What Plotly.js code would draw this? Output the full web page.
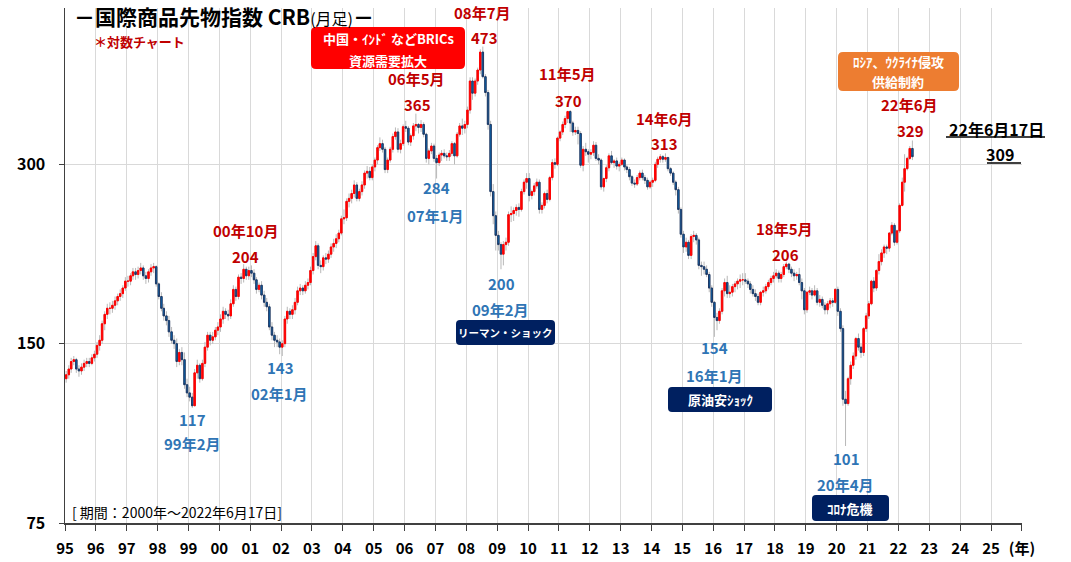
<!DOCTYPE html>
<html><head><meta charset="utf-8">
<script src="https://cdn.plot.ly/plotly-3.0.1.min.js"></script>
<style>html,body{margin:0;padding:0;background:#fff}#c{width:1071px;height:562px}</style>
</head><body><div id="c"></div>
<script>
// Monthly OHLC, Jan 1995 - Jun 2022
const openP = [
131,133,136,140,141,136,135,137,139,140,139,142,
144,149,152,162,168,172,172,174,177,180,182,186,
191,191,195,198,196,199,201,195,193,198,201,202,
189,180,172,167,164,157,152,150,140,145,141,128,
124,122,118,134,138,131,139,148,155,152,154,158,
160,165,170,168,167,175,185,180,194,193,200,195,
199,197,192,185,188,181,176,173,160,155,152,151,
148,150,165,170,168,171,176,184,186,184,188,190,
199,210,219,203,202,209,208,212,218,221,225,230,
243,244,260,263,268,277,263,270,277,290,292,285,
297,305,320,325,318,294,305,318,334,340,318,325,
347,345,327,335,348,350,346,350,337,307,316,322,
307,302,311,313,310,309,313,325,310,337,348,345,
350,370,414,395,414,432,463,421,396,350,270,246,
228,220,212,220,222,247,248,251,254,252,270,280,
284,266,270,276,280,252,256,268,262,285,302,300,
332,340,350,358,368,352,340,342,338,299,318,315,
312,314,323,307,305,275,284,296,310,302,304,298,
300,305,297,294,286,279,278,285,290,285,282,275,
280,282,300,306,309,306,308,295,290,280,272,252,
229,218,222,211,227,228,224,203,202,200,196,186,
176,166,164,170,184,190,182,183,187,189,191,192,
192,191,189,185,182,180,176,183,184,187,190,193,
195,197,193,196,202,204,200,197,195,196,190,184,
171,183,184,181,184,176,178,174,171,175,177,176,
185,170,159,121,119,131,138,143,153,148,145,159,
167,175,191,186,199,206,213,218,217,230,237,222,
232,256,280,295,307,319];
const closeP = [
133,136,140,141,136,135,137,139,140,139,142,144,
149,152,162,168,172,172,174,177,180,182,186,191,
191,195,198,196,199,201,195,193,198,201,202,189,
180,172,167,164,157,152,150,140,145,141,128,124,
122,118,134,138,131,139,148,155,152,154,158,160,
165,170,168,167,175,185,180,194,193,200,195,199,
197,192,185,188,181,176,173,160,155,152,151,148,
150,165,170,168,171,176,184,186,184,188,190,199,
210,219,203,202,209,208,212,218,221,225,230,243,
244,260,263,268,277,263,270,277,290,292,285,297,
305,320,325,318,294,305,318,334,340,318,325,347,
345,327,335,348,350,346,350,337,307,316,322,307,
302,311,313,310,309,313,325,310,337,348,345,350,
370,414,395,414,432,463,421,396,350,270,246,228,
220,212,220,222,247,248,251,254,252,270,280,284,
266,270,276,280,252,256,268,262,285,302,300,332,
340,350,358,368,352,340,342,338,299,318,315,312,
314,323,307,305,275,284,296,310,302,304,298,300,
305,297,294,286,279,278,285,290,285,282,275,280,
282,300,306,309,306,308,295,290,280,272,252,229,
218,222,211,227,228,224,203,202,200,196,186,176,
166,164,170,184,190,182,183,187,189,191,192,192,
191,189,185,182,180,176,183,184,187,190,193,195,
197,193,196,202,204,200,197,195,196,190,184,171,
183,184,181,184,176,178,174,171,175,177,176,185,
170,159,121,119,131,138,143,153,148,145,159,167,
175,191,186,199,206,213,218,217,230,237,222,232,
256,280,295,307,319,309];
const highP = [
135,138,142,143,142,138,139,141,142,142,144,146,
151,155,164,170,175,176,177,180,182,185,188,194,
195,197,201,201,202,205,203,198,200,204,205,203,
190,183,175,170,167,160,155,153,147,148,145,131,
127,124,136,141,139,141,151,157,157,157,160,163,
168,173,172,171,178,188,187,196,197,204,202,202,
203,200,194,190,191,184,179,175,163,157,155,153,
152,167,173,172,174,179,187,189,188,191,193,202,
213,223,221,207,211,213,215,221,225,229,233,246,
252,263,268,272,282,280,273,281,293,298,297,300,
308,323,333,330,321,308,321,338,346,345,330,350,
355,348,338,352,365,352,356,353,339,319,326,325,
311,314,317,318,314,317,328,327,340,352,358,355,
375,420,420,418,436,468,473,425,400,355,278,250,
232,222,223,226,250,255,254,257,258,273,283,290,
290,272,279,284,283,259,270,272,287,306,307,334,
342,354,362,369,370,355,347,347,341,322,326,318,
318,328,327,312,307,285,299,313,316,306,308,303,
308,307,299,297,288,283,288,293,294,288,285,282,
285,303,309,312,311,313,309,297,292,282,275,254,
232,226,224,229,232,230,226,206,206,203,198,188,
177,169,172,186,193,195,188,189,191,193,196,197,
197,193,191,188,185,182,184,187,189,192,195,198,
200,199,198,204,206,205,202,200,198,201,193,186,
184,187,186,188,186,181,180,176,177,179,179,186,
187,172,161,125,132,140,145,154,156,150,160,169,
177,192,194,200,212,216,220,220,231,240,239,233,
258,285,312,309,322,329];
const lowP = [
129,131,134,138,134,132,133,135,137,137,138,140,
142,146,150,158,165,168,169,171,174,177,179,184,
187,188,192,192,193,196,192,189,190,195,197,187,
178,170,164,161,154,150,147,137,138,138,126,122,
120,117,119,131,129,130,137,146,149,150,152,155,
157,162,165,164,165,173,177,178,189,190,192,192,
194,189,182,183,178,173,170,158,152,148,148,144,
143,148,162,165,165,168,174,181,181,182,185,188,
196,207,200,197,199,204,205,209,214,217,222,228,
238,241,254,258,264,260,260,266,273,284,282,282,
292,300,316,314,290,290,302,314,330,314,313,322,
340,323,322,330,341,338,340,333,302,300,312,303,
284,298,304,307,304,304,310,300,308,334,336,338,
345,365,385,390,408,425,418,390,343,265,238,215,
215,200,203,215,219,240,241,246,245,250,267,273,
260,262,266,273,248,248,253,258,260,282,295,298,
328,336,345,352,340,335,336,324,296,292,310,302,
306,310,304,300,272,270,280,292,300,296,294,292,
298,293,290,282,276,274,276,282,282,278,272,273,
275,280,296,302,302,303,292,287,277,266,248,226,
213,214,208,208,222,220,200,195,196,194,183,173,
154,158,162,168,180,179,179,180,183,185,186,188,
189,186,182,180,177,174,174,180,182,185,188,190,
193,190,190,194,200,197,194,191,192,188,178,168,
169,181,178,180,174,173,172,168,168,172,173,175,
167,157,118,101,118,128,136,141,146,142,143,157,
165,174,183,184,196,203,209,212,214,228,219,220,
230,255,270,293,305,305];
const yTickVals = [75, 150, 300];
const xTickYears = [1995,1996,1997,1998,1999,2000,2001,2002,2003,2004,2005,2006,2007,2008,2009,2010,2011,2012,2013,2014,2015,2016,2017,2018,2019,2020,2021,2022,2023,2024,2025,2026];
const xTickText = ['95','96','97','98','99','00','01','02','03','04','05','06','07','08','09','10','11','12','13','14','15','16','17','18','19','20','21','22','23','24','25','(年)'];

const dates = [];
for (let i = 0; i < closeP.length; i++) {
  const y = 1995 + Math.floor(i / 12), m = i % 12 + 1;
  dates.push(y + '-' + String(m).padStart(2, '0') + '-15');
}
const bodyHi = openP.map((o, i) => Math.max(o, closeP[i]));
const bodyLo = openP.map((o, i) => Math.min(o, closeP[i]));

const WICK = '#b8b8b8';
const traces = [
  {type:'candlestick', x:dates, open:openP, high:highP, low:lowP, close:closeP,
   increasing:{line:{color:WICK,width:1}, fillcolor:WICK},
   decreasing:{line:{color:WICK,width:1}, fillcolor:WICK}, hoverinfo:'skip', showlegend:false},
  {type:'candlestick', x:dates, open:openP, high:bodyHi, low:bodyLo, close:closeP,
   increasing:{line:{color:'#ff0000',width:1}, fillcolor:'#ff0000'},
   decreasing:{line:{color:'#1f3864',width:1}, fillcolor:'#0070c0'}, hoverinfo:'skip', showlegend:false}
];

const L = 65, R = 1022, T = 8, B = 523;
const px = x => (x - L) / (R - L);
const py = y => (B - y) / (B - T);
const FONT = 'Noto Sans CJK JP, Noto Sans, sans-serif';
const RED = '#c00000', BLUE = '#2f75b5';
const ann = [];
function txt(t, x, y, color, size, extra) {
  ann.push(Object.assign({text:t, x:px(x), y:py(y), xref:'paper', yref:'paper', showarrow:false,
    xanchor:'center', yanchor:'middle', font:{family:FONT, size:size, color:color}}, extra || {}));
}
const shapes = [];
function rbox(x0, y0, x1, y1, r, color) {
  const a = px(x0), b = px(x1), c = py(y0), d = py(y1);
  const rx = r / (R - L), ry = r / (B - T);
  const p = `M ${a+rx},${c} L ${b-rx},${c} Q ${b},${c} ${b},${c-ry} L ${b},${d+ry} Q ${b},${d} ${b-rx},${d} L ${a+rx},${d} Q ${a},${d} ${a},${d+ry} L ${a},${c-ry} Q ${a},${c} ${a+rx},${c} Z`;
  shapes.push({type:'path', path:p, xref:'paper', yref:'paper', fillcolor:color, line:{width:0}, layer:'above'});
}
function uline(x0, x1, y) {
  shapes.push({type:'line', xref:'paper', yref:'paper', x0:px(x0), x1:px(x1), y0:py(y), y1:py(y), line:{color:'#000', width:1.5}, layer:'above'});
}

// title
ann.push({text:"<b>－国際商品先物指数 CRB</b><span style='font-size:16px'>(月足)</span><b>－</b>", x:px(72), y:py(16), xref:'paper', yref:'paper',
  showarrow:false, xanchor:'left', yanchor:'middle', font:{family:FONT, size:21, color:'#000'}});
ann.push({text:'<b>＊対数チャート</b>', x:px(92), y:py(41), xref:'paper', yref:'paper', showarrow:false,
  xanchor:'left', yanchor:'middle', font:{family:FONT, size:13, color:RED}});
ann.push({text:'[ 期間：2000年～2022年6月17日]', x:px(70), y:py(512), xref:'paper', yref:'paper', showarrow:false,
  xanchor:'left', yanchor:'middle', font:{family:FONT, size:14, color:'#000'}});

function lab(t, x, y, color) { txt('<b>' + t + '</b>', x, y, color, 15); }
// peaks (red)
lab('08年7月', 482, 13, RED); lab('473', 484, 38, RED);
lab('06年5月', 416, 78, RED); lab('365', 417, 105, RED);
lab('00年10月', 245, 230, RED); lab('204', 245, 256, RED);
lab('11年5月', 567, 73, RED); lab('370', 568, 100, RED);
lab('14年6月', 664, 118, RED); lab('313', 664, 144, RED);
lab('18年5月', 784, 228, RED); lab('206', 785, 255, RED);
lab('22年6月', 909, 104, RED); lab('329', 910, 130, RED);
// troughs (blue)
lab('117', 192, 419, BLUE); lab('99年2月', 192, 443, BLUE);
lab('143', 280, 367, BLUE); lab('02年1月', 279, 393, BLUE);
lab('284', 436, 188, BLUE); lab('07年1月', 435, 215, BLUE);
lab('200', 501, 283, BLUE); lab('09年2月', 500, 309, BLUE);
lab('154', 714, 348, BLUE); lab('16年1月', 714, 375, BLUE);
lab('101', 846, 458, BLUE); lab('20年4月', 845, 484, BLUE);
// latest
txt('<b>22年6月17日</b>', 996, 129, '#000', 16); uline(946, 1045, 137);
txt('<b>309</b>', 1000, 154, '#000', 16); uline(987, 1021, 163);

// boxes
rbox(311, 27, 465, 69, 5, '#ff0000');
txt('<b>中国・ｲﾝﾄﾞ などBRICs</b>', 388, 39, '#fff', 13); txt('<b>資源需要拡大</b>', 388, 60, '#fff', 13);
rbox(838, 52, 959, 91, 5, '#ed7d31');
txt('<b>ﾛｼｱ、ｳｸﾗｲﾅ侵攻</b>', 898, 61, '#fff', 13); txt('<b>供給制約</b>', 898, 82, '#fff', 13);
rbox(456, 320, 555, 345, 4, '#002060');
txt('<b>リーマン・ショック</b>', 505, 332, '#fff', 10.5);
rbox(668, 387, 772, 412, 4, '#002060');
txt('<b>原油安ｼｮｯｸ</b>', 720, 399, '#fff', 13);
rbox(812, 495, 889, 521, 4, '#002060');
txt('<b>ｺﾛﾅ危機</b>', 850, 508, '#fff', 13);

const layout = {
  width:1071, height:562, margin:{l:L, r:1071-R, t:T, b:562-B},
  paper_bgcolor:'#fff', plot_bgcolor:'#fff', showlegend:false, boxmode:'overlay', boxgap:0.12,
  font:{family:FONT, color:'#000'},
  xaxis:{type:'date', range:['1995-01-01','2026-01-02'],
    tickvals:xTickYears.map(y => y + '-01-01'), ticktext:xTickText,
    showgrid:true, gridcolor:'#d9d9d9', gridwidth:1, showline:true, linecolor:'#404040', linewidth:1.5,
    ticks:'outside', ticklen:6, tickcolor:'#404040', tickfont:{family:FONT, size:15, color:'#000', weight:'bold'},
    ticklabelstandoff:5, rangeslider:{visible:false}, fixedrange:true, zeroline:false},
  yaxis:{type:'log', range:[Math.log10(75), Math.log10(549)], tickvals:yTickVals, ticktext:yTickVals.map(String),
    showgrid:true, gridcolor:'#d9d9d9', gridwidth:1, showline:true, linecolor:'#404040', linewidth:1.5,
    ticks:'outside', ticklen:5, tickcolor:'#404040', tickfont:{family:FONT, size:16, color:'#000', weight:'bold'},
    ticklabelstandoff:10, fixedrange:true, zeroline:false},
  annotations:ann, shapes:shapes
};
Plotly.newPlot('c', traces, layout, {displayModeBar:false, staticPlot:true});
</script>
</body></html>
